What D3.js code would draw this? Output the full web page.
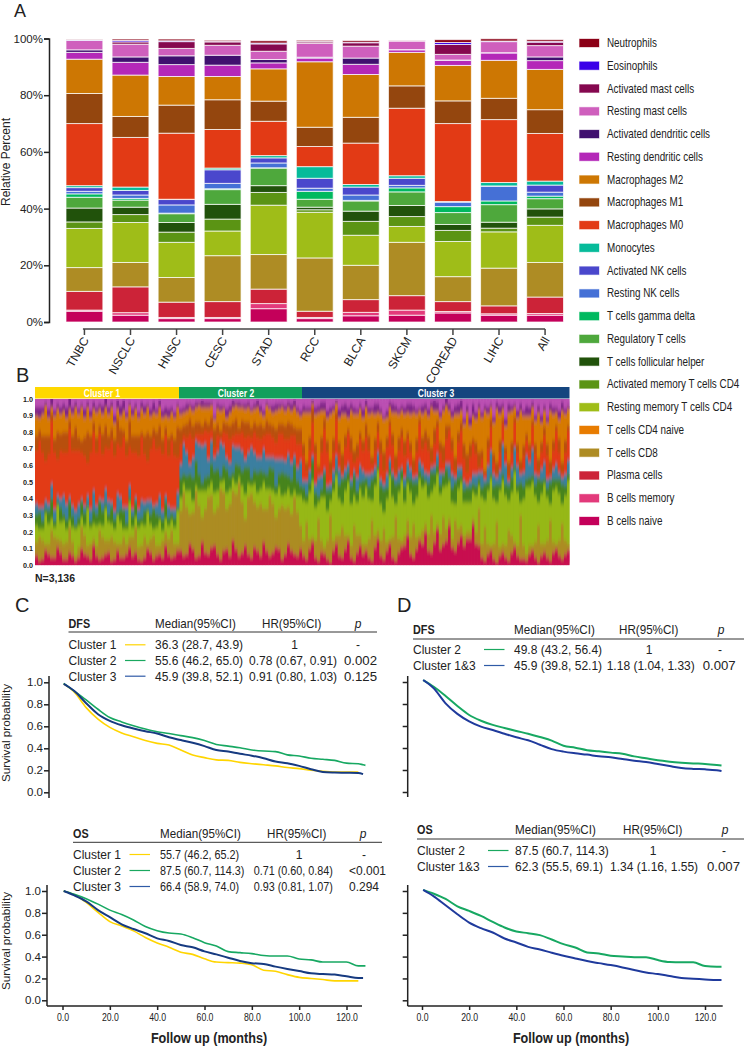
<!DOCTYPE html>
<html><head><meta charset="utf-8">
<script src="https://cdn.jsdelivr.net/npm/d3@7"></script>
<style>
html,body{margin:0;padding:0;background:#fff}
svg{display:block}
text{font-family:"Liberation Sans",Arial,sans-serif;fill:#222}
</style></head><body>
<svg id="c" width="744" height="1046"></svg>
<script>
// ---------- Panel A data (percent, bottom to top of the stack) ----------
const cancers = ["TNBC","NSCLC","HNSC","CESC","STAD","RCC","BLCA","SKCM","COREAD","LIHC","All"];
const cellTypes = ["B cells naive","B cells memory","Plasma cells","T cells CD8","T cells CD4 naive","Resting memory T cells CD4","Activated memory T cells CD4","T cells follicular helper","Regulatory T cells","T cells gamma delta","Resting NK cells","Activated NK cells","Monocytes","Macrophages M0","Macrophages M1","Macrophages M2","Resting dendritic cells","Activated dendritic cells","Resting mast cells","Activated mast cells","Eosinophils","Neutrophils"];
const cellColors = ["#c4005a","#e33a7b","#cc2338","#ae8c24","#e87c00","#9fbd18","#5b9414","#21520b","#4ea83c","#00b95f","#4570d6","#4a47cc","#06bb9a","#e23a15","#94460e","#cd7703","#b428b8","#40106f","#cf5fbd","#85084f","#3a00e8","#8b0016"];
const valTNBC  = [3.8,0.4,6.6,8.4,0,13.8,2.3,4.9,3.8,1.2,0.9,1.3,0.7,21.9,10.6,12.1,2.4,0.9,3.3,0.1,0.1,0.1];
const valNSCLC = [2.4,0.9,9.1,8.6,0,14.1,2.8,2.6,2.5,0.6,1.2,1.6,1.2,17.5,7.4,14.6,4.5,1.9,4.5,0.8,0.5,0.5];
const valHNSC  = [1.2,0.4,5.4,8.7,0,12.4,3.6,3.4,3.1,0.2,2.9,1.9,0.1,23.3,9.9,10.1,4.2,3.1,2.6,2.4,0.3,0.6];
const valCESC  = [1.2,0.4,5.6,16.2,0,8.7,4.2,5.2,5.2,0.3,1.9,4.8,0.6,13.6,10.5,8.2,4.0,3.5,3.5,1.2,0.2,0.4];
const valSTAD  = [4.7,1.8,5.1,12.2,0,17.4,4.5,2.4,6.2,0.1,1.7,1.8,0.8,12.1,7.1,11.4,2.1,1.2,2.9,2.6,0.3,0.8];
const valRCC   = [1.2,0.4,2.2,18.8,0,16.1,0.9,0.9,2.8,2.8,1.1,3.5,4.1,7.1,6.8,23.1,1.3,0.3,4.9,0.5,0.2,0.4];
const valBLCA  = [2.2,1.2,4.5,12.1,0,10.6,4.9,3.6,3.6,0.2,1.9,2.8,0.9,14.6,9.1,15.1,3.6,2.2,4.2,1.2,0.2,0.6];
const valSKCM  = [2.4,1.8,5.1,18.8,0,5.6,3.5,3.9,4.8,1.4,0.9,2.5,0.9,23.8,7.9,11.8,0.9,0.1,3.0,0.1,0.1,0.1];
const valCOREAD= [3.2,0.5,3.5,8.8,0,12.4,3.9,2.1,4.2,2.1,1.6,0.1,0.1,27.5,8.0,12.5,1.8,0.1,2.0,3.5,0.7,1.0];
const valLIHC  = [2.4,0.5,2.8,13.3,0,12.8,1.3,2.1,6.2,1.3,5.2,0.1,1.2,22.2,7.5,13.4,2.6,0.1,3.9,0.1,0.1,0.8];
const valAll   = [2.4,0.6,5.8,12.2,0,13.1,2.9,2.9,3.6,0.9,1.4,2.5,1.4,16.8,8.4,14.2,3.1,1.3,4.0,1.2,0.3,0.6];
const cancerValues = [valTNBC,valNSCLC,valHNSC,valCESC,valSTAD,valRCC,valBLCA,valSKCM,valCOREAD,valLIHC,valAll];
const percentTicks = [0,20,40,60,80,100];

// ---------- Panel B data ----------
// The 3,136 samples cannot be read individually: these are hand-estimated band widths (percent)
// for representative columns (set A = typical, set B = streaky columns), laid out alternately.
const clusterNames = ["Cluster 1","Cluster 2","Cluster 3"];
const clusterColors = ["#ffd800","#12a05c","#14457f"];
const bandNames = ["crimson","ochre","lime","greens","bluemix","m0","m1","m2","dc","mast"];
const bandColors = ["#c8104f","#ac8c22","#96b818","#46841e","#3b7fa0","#e23a15","#b8500e","#d67a04","#7d2287","#bb4fb2"];
const bandCrimsonA = [6,4,7,5,8,4,6,5,7,4,6,5,8,4,5,7,6,4,5,8,6,5,7,6, 9,7,10,6,8,11,7,9,6,10,8,7,11,6,9,8,10,7,9,6, 6,10,5,8,4,9,6,10,5,8,7,5,11,6,9,5,8,12,7,10,13,9,14,10,15,11,14,12,16,13,5,7,4,6,5,8,6,4,7,5,6,5,8,6,7];
const bandOchreA   = [8,11,6,12,7,10,8,6,11,9,6,12,7,10,8,6,11,7,12,8,6,10,9,7, 24,28,22,30,26,31,28,35,31,33,30,34,27,31,25,29,24,27,22,26, 9,6,10,7,11,6,12,8,7,10,6,11,7,9,5,12,8,6,10,7,8,10,6,9,7,5,8,6,4,7,8,6,9,5,7,10,6,8,5,9,7,10,6,9,8];
const bandLimeA    = [10,7,12,6,11,8,9,13,6,10,12,7,11,8,13,9,6,12,7,9,11,6,8,10, 8,10,7,9,11,8,10,7,9,6,10,8,11,9,12,8,13,9,11,10, 24,28,20,26,18,30,22,27,25,20,28,24,30,22,26,24,28,20,27,24,26,22,28,24,26,22,24,20,18,22,28,32,27,34,30,26,32,28,35,28,30,26,31,28,27];
const bandGreensA  = [7,5,8,4,9,6,7,5,8,4,7,9,5,6,8,4,7,5,9,6,8,7,5,6, 12,9,14,10,8,11,13,9,8,12,9,10,8,11,9,13,8,12,10,9, 8,6,9,5,12,6,9,8,11,7,10,8,6,11,7,12,6,10,8,9,7,9,8,6,10,9,7,8,9,6,6,5,8,4,7,9,5,8,6,7,8,6,7,9,6];
const bandBlueA    = [6,8,4,7,5,9,6,8,4,7,5,6,8,5,7,9,4,6,5,8,6,5,7,5, 8,14,12,18,20,14,10,12,8,10,12,9,11,8,10,7,9,8,10,8, 4,7,5,8,3,6,9,5,4,8,6,7,5,4,8,3,7,5,6,4,6,5,4,7,3,8,6,5,4,7,9,10,7,8,12,6,11,8,9,6,7,5,6,4,7];
const bandM0A      = [32,33,30,34,29,31,33,32,30,34,32,28,31,33,30,31,34,32,29,31,33,34,30,32, 12,9,11,6,8,6,10,8,14,8,11,10,12,11,14,12,15,13,16,14, 15,12,18,14,20,11,10,13,16,12,12,14,10,15,16,16,12,13,10,14,10,14,13,12,15,14,15,13,14,12,8,10,7,11,6,9,8,10,7,12,10,14,11,12,13];
const bandM1A      = [9,10,11,8,10,12,9,8,11,10,9,12,8,10,11,9,10,12,11,8,10,9,11,10, 9,8,8,7,6,8,7,6,8,9,7,8,6,9,8,7,6,8,7,9, 7,8,6,9,7,8,6,7,9,8,6,9,7,8,6,7,8,9,6,8,7,8,9,6,8,7,6,9,8,7,5,6,5,7,4,6,5,6,4,6,6,7,6,8,7];
const bandM2A      = [12,13,11,14,12,9,13,14,12,11,15,12,13,10,8,14,12,11,13,12,11,13,12,13, 9,8,9,10,8,7,9,8,8,8,8,9,8,7,9,8,9,9,8,10, 19,15,18,16,14,17,15,13,16,18,14,13,15,16,12,13,14,16,17,15,14,13,11,15,12,13,11,12,11,14,20,15,19,16,13,19,16,18,17,14,12,13,16,12,16];
const bandDCA      = [5,4,5,3,4,6,4,3,5,4,3,5,4,4,6,3,4,3,5,4,3,4,5,3, 3,4,3,2,3,2,3,2,4,2,2,3,3,4,2,4,3,3,4,3, 4,3,4,5,4,3,5,6,4,3,5,4,6,3,4,5,3,4,6,3,5,4,6,3,5,4,6,3,5,4,3,4,3,5,4,3,4,3,5,3,4,3,4,5,3];
const bandCrimsonB = [3,9,5,11,4,8,3,10,6,12,4,7,3,9,5,11,8,3,10,4,7,12,5,9, 6,13,5,14,7,12,4,10,15,6,12,5,9,14,6,11,4,13,7,10, 4,14,3,7,2,13,5,15,3,12,9,3,16,4,13,3,11,18,5,15,20,8,22,13,24,9,18,16,25,12,3,9,2,8,3,11,4,3,9,2,8,3,10,4,9];
const bandOchreB   = [14,4,16,5,9,15,3,13,6,4,17,8,14,4,12,6,15,9,3,14,5,8,16,4, 38,18,40,15,34,20,42,24,30,44,16,38,26,20,36,18,32,22,34,14, 22,3,25,4,28,5,18,3,21,6,4,24,5,18,3,26,4,9,20,3,5,22,3,16,4,18,6,4,3,22,20,3,24,5,18,3,26,4,3,22,5,24,3,21,4];
const bandLimeB    = [5,18,7,20,14,4,16,6,22,9,4,19,8,17,5,21,6,13,19,4,15,8,6,20, 5,14,3,16,6,12,4,10,7,3,15,5,9,16,4,14,6,11,4,18, 12,34,10,30,9,36,14,32,18,28,34,12,36,10,38,8,36,22,12,34,24,14,30,18,22,10,26,18,16,14,16,40,12,38,18,42,8,40,38,14,36,10,34,12,38];
const bandGreensB  = [10,3,12,2,4,11,3,9,2,8,13,3,10,2,11,3,9,4,2,12,3,10,4,2, 6,10,15,5,7,13,4,14,4,7,16,5,12,6,13,5,14,8,16,6, 5,12,4,14,6,3,15,6,12,4,5,13,3,14,4,12,6,4,13,5,3,12,5,7,3,13,4,9,5,4,10,3,11,4,9,3,12,5,4,14,3,13,5,12,4];
const bandBlueB    = [3,5,9,4,11,3,8,2,6,12,2,9,3,11,2,7,3,10,5,2,12,4,3,9, 18,6,12,22,10,8,20,7,16,11,5,18,9,14,6,16,8,13,5,15, 8,3,11,3,4,9,2,5,3,10,3,4,8,3,6,4,2,9,3,6,4,3,7,2,8,3,5,2,6,4,3,14,4,18,3,12,5,14,16,2,10,3,9,4,8];
const bandM0B      = [40,24,38,22,26,41,36,28,20,35,39,25,37,30,42,23,27,38,24,40,29,36,41,21, 5,18,4,7,16,6,3,14,6,8,13,6,12,8,14,10,15,9,12,10, 6,20,4,24,6,22,3,18,5,16,22,5,12,8,20,4,18,14,4,22,18,3,16,6,20,4,22,7,18,3,3,14,2,12,3,15,2,9,14,3,16,2,20,3,18];
const bandM1B      = [6,15,4,16,12,5,14,7,18,6,5,13,7,15,4,16,10,3,17,6,13,5,4,18, 6,9,7,5,5,11,4,6,8,4,9,6,7,5,6,8,6,10,5,9, 5,9,3,6,8,4,10,3,7,4,8,4,6,11,3,9,5,4,7,3,7,9,4,10,3,8,5,11,3,9,2,5,7,3,8,3,6,4,3,7,5,8,3,6,3];
const bandM2B      = [8,18,4,14,13,7,12,20,15,8,10,11,13,6,12,9,16,14,15,10,11,7,13,12, 8,7,9,11,10,6,12,4,9,12,8,10,11,7,9,11,10,9,12,8, 30,2,32,5,28,5,24,7,22,14,10,27,6,20,8,26,11,12,28,5,12,24,6,21,9,26,7,25,14,26,36,7,32,6,30,6,30,11,8,28,10,30,8,31,10];
const bandDCB      = [6,2,7,3,4,6,3,2,3,4,3,5,3,5,6,2,3,4,2,6,4,5,3,2, 3,2,3,4,3,2,3,5,4,3,3,2,4,3,2,4,2,3,4,3, 3,2,4,5,4,2,5,6,4,3,4,3,5,2,3,4,3,5,4,2,4,3,5,3,4,5,6,4,7,3,3,2,4,3,5,2,4,6,3,4,3,4,3,5,2];
const bandTicks = [0,0.1,0.2,0.3,0.4,0.5,0.6,0.7,0.8,0.9,1.0];

// ---------- Panels C and D data ----------
const months = [0.5,5,10,15,20,25,30,35,40,45,50,55,60,65,70,75,80,85,90,95,100,105,110,115,120,125,127,128];
const monthTicks = [0,20,40,60,80,100,120];
const survTicks = [0,0.2,0.4,0.6,0.8,1.0];
const dfsC1 = [.985,.91,.77,.665,.59,.54,.505,.47,.445,.43,.385,.34,.315,.295,.29,.272,.26,.25,.24,.225,.215,.2,.19,.185,.185,.185,null,null];
const dfsC2 = [.99,.92,.84,.755,.68,.64,.605,.575,.55,.535,.515,.497,.47,.435,.42,.405,.385,.375,.37,.34,.33,.31,.3,.29,.265,.26,.25,.245];
const dfsC3 = [.985,.92,.81,.71,.65,.61,.58,.555,.535,.5,.475,.45,.42,.385,.37,.35,.333,.31,.28,.265,.24,.21,.185,.18,.178,.175,.165,null];
const osC1  = [1,.965,.895,.805,.72,.68,.635,.575,.525,.485,.44,.42,.38,.35,.345,.34,.325,.275,.265,.235,.21,.2,.19,.178,.178,.178,null,null];
const osC2  = [1,.97,.93,.88,.825,.785,.735,.675,.637,.615,.607,.573,.527,.497,.445,.436,.427,.41,.405,.405,.378,.37,.35,.35,.35,.315,.315,.315];
const osC3  = [1,.96,.905,.825,.76,.695,.652,.613,.567,.543,.506,.485,.448,.42,.39,.36,.34,.332,.308,.287,.268,.247,.24,.235,.22,.205,.205,null];
const dfsD2 = [1.018,.957,.873,.782,.70,.648,.61,.582,.555,.53,.5,.467,.42,.403,.38,.37,.358,.348,.324,.306,.288,.276,.267,.26,.255,.245,.24,null];
const dfsD13= [1.018,.942,.806,.71,.642,.594,.564,.53,.497,.47,.43,.39,.367,.352,.34,.324,.315,.3,.285,.273,.255,.236,.218,.21,.206,.197,.19,null];
const osD2  = [1.01,.975,.927,.86,.818,.772,.717,.666,.63,.614,.596,.556,.514,.483,.438,.429,.407,.401,.395,.395,.368,.35,.347,.347,.313,.307,.307,null];
const osD13 = [1.01,.951,.869,.787,.711,.66,.62,.565,.529,.489,.465,.435,.407,.383,.359,.34,.322,.301,.277,.255,.24,.222,.204,.198,.191,.185,.185,null];
const tableHead = ["Median(95%CI)","HR(95%CI)","p"];
const dfsCRows = [["Cluster 1","36.3 (28.7, 43.9)","1","-"],["Cluster 2","55.6 (46.2, 65.0)","0.78 (0.67, 0.91)","0.002"],["Cluster 3","45.9 (39.8, 52.1)","0.91 (0.80, 1.03)","0.125"]];
const osCRows  = [["Cluster 1","55.7 (46.2, 65.2)","1","-"],["Cluster 2","87.5 (60.7, 114.3)","0.71 (0.60, 0.84)","<0.001"],["Cluster 3","66.4 (58.9, 74.0)","0.93 (0.81, 1.07)","0.294"]];
const dfsDRows = [["Cluster 2","49.8 (43.2, 56.4)","1","-"],["Cluster 1&3","45.9 (39.8, 52.1)","1.18 (1.04, 1.33)","0.007"]];
const osDRows  = [["Cluster 2","87.5 (60.7, 114.3)","1","-"],["Cluster 1&3","62.3 (55.5, 69.1)","1.34 (1.16, 1.55)","0.007"]];

// ---------- helpers ----------
const svg = d3.select("#c");
function label(x,y,t,size,o={}){
  const s = svg.append("text").attr("font-size",size).text(t)
    .attr("text-anchor",o.anchor||"start").attr("font-weight",o.bold?"bold":null).attr("font-style",o.italic?"italic":null);
  if(o.fill) s.style("fill",o.fill);
  let tf = `translate(${x},${y})`;
  if(o.rotate!==undefined) tf += ` rotate(${o.rotate})`;
  if(o.k) tf += ` scale(${o.k},1)`;
  s.attr("transform",tf);
  return s;
}
function styleAxis(g,w,col){
  g.selectAll("path").attr("stroke",col).attr("stroke-width",w);
  g.selectAll("line").attr("stroke",col).attr("stroke-width",w);
}
[["A",14,17,18],["B",16,382,20],["C",15,612,20],["D",397,612,20]].forEach(d=>label(d[1],d[2],d[0],d[3]));

// ---------- Panel A ----------
const yA = d3.scaleLinear().domain([0,100]).range([322,38.5]);
const xA = d3.scaleBand().domain(cancers).range([66,563.5]).paddingInner(0.2).paddingOuter(0);
const rowsA = cancers.map((c,i)=>{const r={cancer:c};cellTypes.forEach((t,j)=>r[t]=cancerValues[i][j]);return r;});
const stackA = d3.stack().keys(cellTypes)(rowsA);
svg.append("g").selectAll("g").data(stackA).join("g")
  .attr("fill",(d,i)=>cellColors[i])
  .selectAll("rect").data(d=>d.filter(p=>p[1]>p[0])).join("rect")
  .attr("x",d=>xA(d.data.cancer)).attr("width",xA.bandwidth())
  .attr("y",d=>yA(d[1])).attr("height",d=>yA(d[0])-yA(d[1]))
  .attr("stroke","#fff").attr("stroke-opacity",.72).attr("stroke-width",1);
const axAy = svg.append("g").attr("transform","translate(49,0)")
  .call(d3.axisLeft(yA).tickValues(percentTicks).tickFormat(d=>d+"%").tickSize(5).tickPadding(1));
styleAxis(axAy,1.5,"#222");
axAy.selectAll("text").attr("font-size",11.5).attr("font-family",null);
const axAx = svg.append("g").attr("transform","translate(0,329)").call(d3.axisBottom(xA).tickSize(6).tickSizeOuter(0));
styleAxis(axAx,1.5,"#444");
axAx.select("path").attr("d",`M${xA("TNBC")+xA.bandwidth()/2-1.5},0H${xA("All")+xA.bandwidth()/2}`);
axAx.selectAll("text").attr("font-size",12).attr("font-family",null).attr("text-anchor","end").attr("x",0).attr("y",0).attr("dy",null)
  .attr("transform","translate(5,11) rotate(-60)");
label(10,162,"Relative Percent",12,{anchor:"middle",rotate:-90});

// legend (top to bottom, Neutrophils first)
const legendRows = d3.scaleLinear().domain([0,21]).range([43,521]);
cellTypes.slice().reverse().forEach((t,i)=>{
  const col = cellColors[cellTypes.length-1-i];
  const cy = legendRows(i);
  svg.append("rect").attr("x",579.5).attr("y",cy-4).attr("width",19.5).attr("height",8).attr("fill",col).attr("stroke",col).attr("stroke-opacity",.35);
  label(607,cy+4,t,12.5,{k:.79});
});

// ---------- Panel B ----------
const interleave = (a,b)=>d3.merge(d3.zip(a,b));
const bandArrays = [
  interleave(bandCrimsonA,bandCrimsonB),interleave(bandOchreA,bandOchreB),interleave(bandLimeA,bandLimeB),
  interleave(bandGreensA,bandGreensB),interleave(bandBlueA,bandBlueB),interleave(bandM0A,bandM0B),
  interleave(bandM1A,bandM1B),interleave(bandM2A,bandM2B),interleave(bandDCA,bandDCB)];
const rowsB = bandArrays[0].map((_,i)=>{
  const r={i}; let tot=0;
  bandArrays.forEach((a,j)=>{r[bandNames[j]]=a[i];tot+=a[i];});
  r.mast=Math.max(0,100-tot); return r;
});
const stackB = d3.stack().keys(bandNames)(rowsB);
const clusterEdges = [0,48,88,178];
const xB = d3.scaleLinear().domain(clusterEdges).range([35,179,302,569.5]);
const yB = d3.scaleLinear().domain([0,100]).range([565.3,399]);
const defs = svg.append("defs");
defs.append("filter").attr("id","smear").attr("x","-5%").attr("y","-10%").attr("width","110%").attr("height","120%")
  .append("feGaussianBlur").attr("stdDeviation","0.7 2.4");
defs.append("clipPath").attr("id","plotB").append("rect").attr("x",35).attr("y",399).attr("width",534.5).attr("height",166.3);
function drawB(parent){
  parent.selectAll("g").data(stackB).join("g").attr("fill",(d,i)=>bandColors[i])
    .selectAll("rect").data(d=>d).join("rect")
    .attr("x",d=>xB(d.data.i)).attr("width",d=>xB(d.data.i+1)-xB(d.data.i)+.4)
    .attr("y",d=>yB(d[1])).attr("height",d=>yB(d[0])-yB(d[1]));
}
const plotB = svg.append("g").attr("clip-path","url(#plotB)");
drawB(plotB.append("g"));
drawB(plotB.append("g").attr("filter","url(#smear)"));
d3.pairs(clusterEdges).forEach((e,i)=>{
  svg.append("rect").attr("x",xB(e[0])).attr("y",387).attr("width",xB(e[1])-xB(e[0])).attr("height",11.5).attr("fill",clusterColors[i]);
});
label(102,396.5,clusterNames[0],10,{anchor:"middle",bold:true,fill:"#fff",k:.85});
label(236,396.5,clusterNames[1],10,{anchor:"middle",bold:true,fill:"#fff",k:.85});
label(436,396.5,clusterNames[2],10,{anchor:"middle",bold:true,fill:"#fff",k:.85});
bandTicks.forEach(t=>label(33,yB(t*100)+2.5,t.toFixed(1),7.2,{anchor:"end",bold:true}));
label(35,582,"N=3,136",10.5,{bold:true});

// ---------- Panels C, D ----------
const KM = {yellow:"#ffd500",green:"#17a862",navy:"#163a80",royal:"#1f3a9c"};
const legendLine = {yellow:"#ffd500",green:"#1aa85f",blue:"#2f5aa6"};
function table(rows,cfg){
  const vk = cfg.valK||undefined, ps = cfg.pSize||13.2;
  label(cfg.x,cfg.head,cfg.title,12,{bold:true,k:.9});
  label(cfg.med,cfg.head,tableHead[0],12,{k:.97});
  label(cfg.hr,cfg.head,tableHead[1],12,{k:.97});
  label(cfg.pc,cfg.head,tableHead[2],12,{anchor:"middle",italic:true});
  svg.append("line").attr("x1",cfg.x).attr("x2",cfg.lineEnd).attr("y1",cfg.lineY).attr("y2",cfg.lineY).attr("stroke","#333").attr("stroke-width",1);
  rows.forEach((r,i)=>{
    const b = cfg.rows[i];
    label(cfg.x,b,r[0],12);
    svg.append("line").attr("x1",cfg.lx).attr("x2",cfg.lx+20.5).attr("y1",b-4.5).attr("y2",b-4.5).attr("stroke",cfg.cols[i]).attr("stroke-width",1.2);
    label(cfg.med,b,r[1],12,{k:vk});
    if(r[2]==="1") label(cfg.oneX,b,r[2],12,{anchor:"middle"}); else label(cfg.hrv,b,r[2],12,{k:vk});
    if(r[3]==="-") label(cfg.dashX,b,r[3],12,{anchor:"middle"}); else label(cfg.pv,b,r[3],ps);
  });
}
function km(cfg){
  const x = d3.scaleLinear().domain([0,120]).range(cfg.xr);
  const y = d3.scaleLinear().domain([0,1]).range(cfg.yr);
  const ax = svg.append("g").attr("transform",`translate(${cfg.axisX},0)`)
    .call(d3.axisLeft(y).tickValues(survTicks).tickFormat(cfg.yLabels?d3.format(".1f"):"").tickSize(5).tickPadding(1).tickSizeOuter(0));
  styleAxis(ax,1.5,"#222");
  ax.select("path").attr("d",`M0,${cfg.top}V${cfg.bot}`);
  ax.selectAll("text").attr("font-size",11.5).attr("font-family",null);
  if(cfg.xAxisY){
    const bx = svg.append("g").attr("transform",`translate(0,${cfg.xAxisY})`)
      .call(d3.axisBottom(x).tickValues(monthTicks).tickFormat(d3.format(".1f")).tickSize(4).tickPadding(4).tickSizeOuter(0));
    styleAxis(bx,1.5,"#222");
    bx.select("path").attr("d",`M${cfg.axisX},0H${cfg.xEnd}`);
    bx.selectAll("text").attr("font-size",10).attr("font-family",null).attr("transform","scale(.87,1)");
    label(cfg.titleX,1043,"Follow up (months)",14.5,{anchor:"middle",bold:true,k:.87});
  }
  if(cfg.yLabels) label(10,cfg.labelY,"Survival probability",11.7,{anchor:"middle",rotate:-90});
  const line = d3.line().defined(d=>d[1]!==null).x(d=>x(d[0])).y(d=>y(d[1])).curve(d3.curveMonotoneX);
  cfg.curves.forEach(c=>{
    svg.append("path").attr("d",line(months.map((m,i)=>[m,c.v[i]]))).attr("fill","none")
      .attr("stroke",c.col).attr("stroke-width",c.w).attr("stroke-linejoin","round");
  });
}
const xC=[62.5,346.5], xD=[422,705];
km({xr:xC,yr:[792.3,682.3],axisX:49,top:676,bot:798,yLabels:true,labelY:733,
  curves:[{v:dfsC1,col:KM.yellow,w:1.6},{v:dfsC2,col:KM.green,w:1.6},{v:dfsC3,col:KM.navy,w:2}]});
km({xr:xC,yr:[1000.3,891],axisX:47,top:885,bot:1006,yLabels:true,labelY:941,xAxisY:1006,xEnd:362,titleX:209,
  curves:[{v:osC1,col:KM.yellow,w:1.6},{v:osC2,col:KM.green,w:1.6},{v:osC3,col:KM.navy,w:2}]});
km({xr:xD,yr:[792,682],axisX:407.7,top:676,bot:797,yLabels:false,
  curves:[{v:dfsD2,col:KM.green,w:2},{v:dfsD13,col:KM.royal,w:2}]});
km({xr:xD,yr:[1000.3,891],axisX:407.7,top:885,bot:1006,yLabels:false,xAxisY:1006,xEnd:722.7,titleX:571,
  curves:[{v:osD2,col:KM.green,w:2},{v:osD13,col:KM.royal,w:2}]});

const col3=[legendLine.yellow,legendLine.green,legendLine.blue], col2=[legendLine.green,legendLine.blue];
table(dfsCRows,{title:"DFS",x:68.5,head:628,lineY:632,lineEnd:377,med:155,hr:262,pc:358,rows:[649.3,665,680.7],lx:125,cols:col3,oneX:294.5,hrv:249,dashX:358,pv:344});
table(osCRows,{title:"OS",x:73,head:837.7,lineY:842.3,lineEnd:382,med:160,hr:267,pc:363,rows:[859,875,891],lx:129.5,cols:col3,oneX:299,hrv:253.7,dashX:364,pv:349,valK:.9,pSize:12});
table(dfsDRows,{title:"DFS",x:413,head:634,lineY:639,lineEnd:744,med:514,hr:619,pc:721,rows:[654,670],lx:484,cols:col2,oneX:649,hrv:606.7,dashX:720,pv:702.7});
table(osDRows,{title:"OS",x:417,head:834,lineY:839,lineEnd:744,med:515,hr:623,pc:725,rows:[855,871],lx:488,cols:col2,oneX:653,hrv:610,dashX:724,pv:707});
</script>
</body></html>
